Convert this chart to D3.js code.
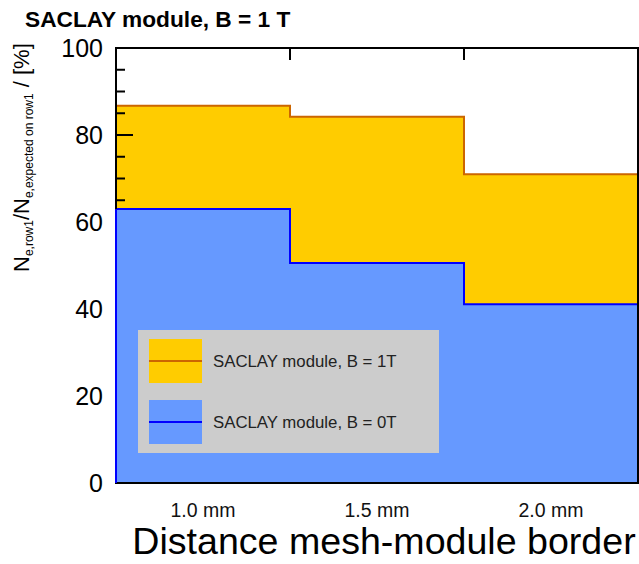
<!DOCTYPE html>
<meta charset="utf-8">
<style>
body { margin: 0; background: #fff; }
svg text { font-family: "Liberation Sans", Arial, sans-serif; }
</style>
<script src="https://d3js.org/d3.v7.min.js"></script>
<div id="chart"></div>
<script>

// data
var distances = [1.0, 1.5, 2.0];
var distanceLabels = ["1.0 mm", "1.5 mm", "2.0 mm"];
var field1T = [86.7, 84.2, 71.0];
var field0T = [63.0, 50.6, 41.1];
var seriesNames = ["SACLAY module, B = 1T", "SACLAY module, B = 0T"];
var yTicks = [0, 20, 40, 60, 80, 100];

var W = 639, H = 564;
var margin = {top: 48, right: 1, bottom: 81, left: 116};
var width = W - margin.left - margin.right,
    height = H - margin.top - margin.bottom;

var svg = d3.select("#chart").append("svg")
    .attr("width", W)
    .attr("height", H);

var g = svg.append("g")
    .attr("transform", "translate(" + margin.left + "," + margin.top + ")");

// each bin is 0.5 mm wide, centred on the distance
var x = d3.scaleLinear().domain([0.75, 2.25]).range([0, width]);
var y = d3.scaleLinear().domain([0, 100]).range([height, 0]);

function steps(vals) {
  var pts = distances.map(function(d, i) { return {x: d - 0.25, v: vals[i]}; });
  pts.push({x: distances[distances.length - 1] + 0.25, v: vals[vals.length - 1]});
  return pts;
}

var area = d3.area()
  .curve(d3.curveStepAfter)
  .x(function(d) { return x(d.x); })
  .y0(y(0))
  .y1(function(d) { return y(d.v); });

var line = d3.line()
  .curve(d3.curveStepAfter)
  .x(function(d) { return x(d.x); })
  .y(function(d) { return y(d.v); });

// 1 T series (drawn first, behind)
g.append("path").datum(steps(field1T))
  .attr("d", area).attr("fill", "#ffcc00");
g.append("path").datum(steps(field1T))
  .attr("d", line).attr("fill", "none")
  .attr("stroke", "#cc6600").attr("stroke-width", 2);

// left axis ticks (minor every 5, major every 20), inward
var minor = d3.range(0, 101, 5);
g.selectAll(".ytick").data(minor).enter().append("line")
  .attr("x1", 0)
  .attr("x2", function(d) { return d % 20 === 0 ? 17 : 9; })
  .attr("y1", function(d) { return y(d); })
  .attr("y2", function(d) { return y(d); })
  .attr("stroke", "#000").attr("stroke-width", 2);

// top ticks at bin boundaries
g.selectAll(".xtick").data([1.25, 1.75]).enter().append("line")
  .attr("x1", function(d) { return x(d); })
  .attr("x2", function(d) { return x(d); })
  .attr("y1", 0).attr("y2", 12)
  .attr("stroke", "#000").attr("stroke-width", 2);

// 0 T series on top
var pts0 = steps(field0T);
g.append("path").datum(pts0)
  .attr("d", area).attr("fill", "#6699ff");
g.append("path").datum([{x: 0.75, v: 0}].concat(pts0))
  .attr("d", line)
  .attr("fill", "none")
  .attr("stroke", "#0000ff").attr("stroke-width", 2);

// frame
g.append("rect")
  .attr("x", 0).attr("y", 0)
  .attr("width", width).attr("height", height)
  .attr("fill", "none").attr("stroke", "#000").attr("stroke-width", 2);
g.append("line")
  .attr("x1", 0).attr("x2", 0).attr("y1", y(0)).attr("y2", y(field0T[0]))
  .attr("stroke", "#0000ff").attr("stroke-width", 2);

// y tick labels
g.selectAll(".ylab").data(yTicks).enter().append("text")
  .attr("x", -13)
  .attr("y", function(d) { return y(d); })
  .attr("dy", "0.36em")
  .attr("text-anchor", "end")
  .attr("font-size", 25)
  .attr("fill", "#000")
  .text(function(d) { return d; });

// x tick labels
g.selectAll(".xlab").data(distances).enter().append("text")
  .attr("x", function(d) { return x(d); })
  .attr("y", height + 34)
  .attr("text-anchor", "middle")
  .attr("font-size", 19.5)
  .attr("fill", "#111")
  .text(function(d, i) { return distanceLabels[i]; });

// x title
svg.append("text")
  .attr("x", 384).attr("y", 554)
  .attr("text-anchor", "middle")
  .attr("font-size", 37.6)
  .attr("fill", "#000")
  .text("Distance mesh-module border");

// title
svg.append("text")
  .attr("x", 25).attr("y", 26.5)
  .attr("font-size", 22.7)
  .attr("font-weight", "bold")
  .attr("fill", "#000")
  .text("SACLAY module, B = 1 T");

// y title with subscripts
var yt = svg.append("text")
  .attr("transform", "translate(28.5,272) rotate(-90)")
  .attr("text-anchor", "start")
  .attr("font-size", 22)
  .attr("fill", "#000");
yt.append("tspan").text("N");
yt.append("tspan").attr("font-size", 12).attr("dy", 4.5).text("e,row1");
yt.append("tspan").attr("dy", -4.5).text("/N");
yt.append("tspan").attr("font-size", 12).attr("dy", 4.5).text("e,expected on row1");
yt.append("tspan").attr("dy", -4.5).text(" / [%]");

// legend
var leg = g.append("g").attr("transform", "translate(22,282)");
leg.append("rect")
  .attr("width", 301).attr("height", 123)
  .attr("fill", "#cccccc");
var fills = ["#ffcc00", "#6699ff"], strokes = ["#cc6600", "#0000ff"];
seriesNames.forEach(function(name, i) {
  var row = leg.append("g").attr("transform", "translate(11," + (9 + i * 61) + ")");
  row.append("rect").attr("width", 53).attr("height", 44).attr("fill", fills[i]);
  row.append("line").attr("x1", 0).attr("x2", 53).attr("y1", 22).attr("y2", 22)
    .attr("stroke", strokes[i]).attr("stroke-width", 2);
  row.append("text").attr("x", 64).attr("y", 22).attr("dy", "0.35em")
    .attr("font-size", 16.8).attr("fill", "#222").text(name);
});

</script>
